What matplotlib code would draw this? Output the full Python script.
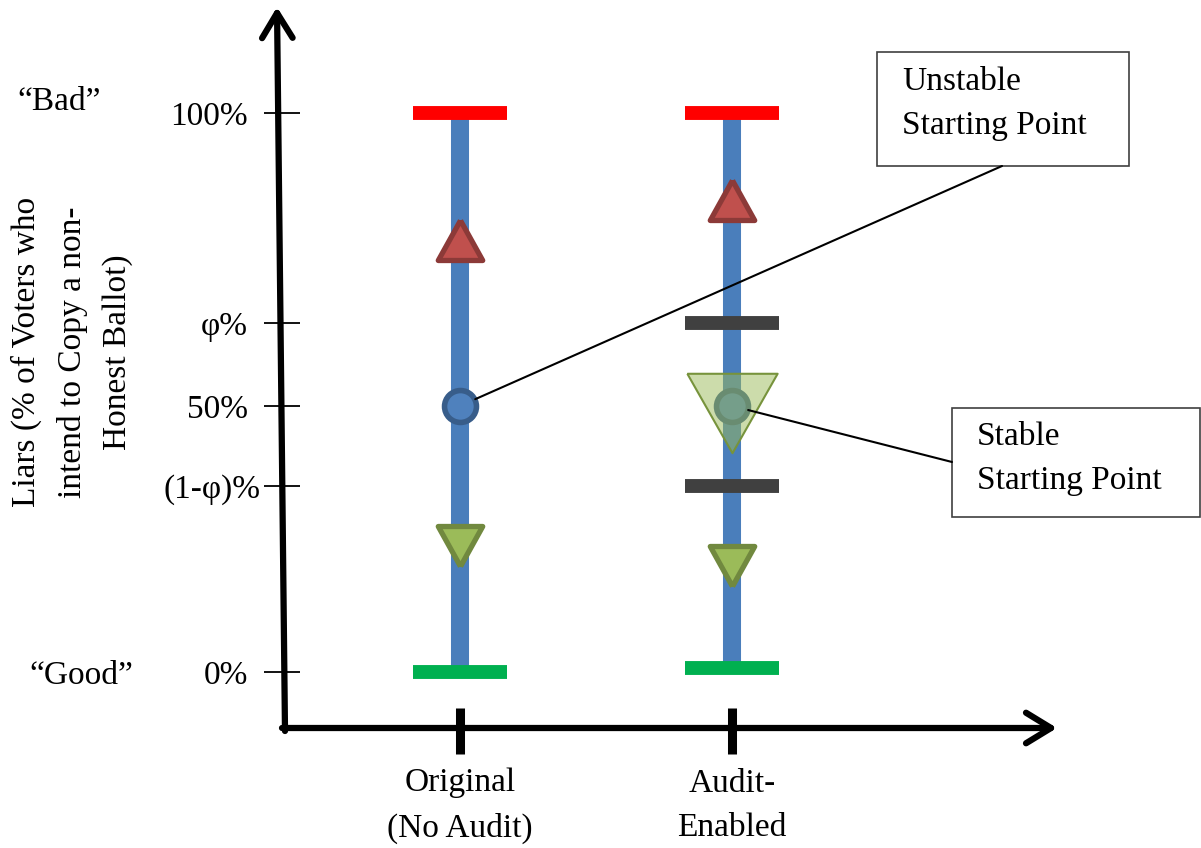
import matplotlib
matplotlib.use('Agg')
import matplotlib.pyplot as plt
from matplotlib.markers import MarkerStyle
from matplotlib.patches import Rectangle

plt.rcParams['font.family'] = ['Liberation Serif', 'DejaVu Serif']

# --- data (schematic percentages as drawn) ---
categories = ['Original\n(No Audit)', 'Audit-\nEnabled']
ytick_values = [100, 62.4, 47.6, 33.3, 0]
ytick_labels = ['100%', 'φ%', '50%', '(1-φ)%', '0%']

top_bar = [100, 100]          # red "bad" end of each range
bottom_bar = [0, 0.8]         # green "good" end of each range
up_marker = [77.3, 84.4]      # red triangles
down_marker = [22.5, 18.9]    # green triangles
start_point = [47.6, 47.6]    # starting points
threshold = [62.4, 33.3]      # phi and 1-phi, audit column only
stable_zone = [46.4]          # shaded triangle, audit column only

ylabel = 'Liars (% of Voters who\nintend to Copy a non-\nHonest Ballot)'

# figure is laid out in pixels; data x=0/1 are the two columns
W, H = 1201, 848
X0, XS = 460, 272      # pixel of x=0, pixels per column step
Y0, YS = 672, 5.59     # pixel of 0%, pixels per percent


def dx(px):
    return (px - X0) / XS


def dy(py):
    return (Y0 - py) / YS


fig = plt.figure(figsize=(W / 100, H / 100), dpi=100)
ax = fig.add_axes([0, 0, 1, 1])
ax.set_xlim(dx(0), dx(W))
ax.set_ylim(dy(H), dy(0))
ax.axis('off')

xs = list(range(len(categories)))

# ranges
ax.vlines(xs, bottom_bar, top_bar, colors='#4A7EBB', lw=13, zorder=1)
hw = 0.173
ax.hlines(top_bar, [x - hw for x in xs], [x + hw for x in xs],
          colors='#FF0000', lw=10, zorder=2)
ax.hlines(bottom_bar, [x - hw for x in xs], [x + hw for x in xs],
          colors='#00B050', lw=10, zorder=2)
ax.hlines(threshold, 1 - hw, 1 + hw, colors='#404040', lw=10, zorder=2)

# markers (triangles a bit wider than tall, like the original)
tri_up = MarkerStyle([(0, 0.9), (-1, -0.9), (1, -0.9), (0, 0.9)], joinstyle='round')
tri_down = MarkerStyle([(0, -0.9), (-1, 0.9), (1, 0.9), (0, -0.9)], joinstyle='round')

ax.plot(xs, start_point, ls='none', marker='o', ms=23, mfc='#4F81BD',
        mec='#385D8A', mew=4, zorder=3)
ax.plot(xs, up_marker, ls='none', marker=tri_up,
        ms=32, mfc='#C0504D', mec='#8C3A38', mew=3.8, zorder=4)
ax.plot(xs, down_marker, ls='none', marker=tri_down,
        ms=32, mfc='#9BBB59', mec='#71893F', mew=3.8, zorder=4)
ax.plot([1], stable_zone, ls='none',
        marker=[(-1, 0.88), (1, 0.88), (0, -0.88), (-1, 0.88)],
        ms=65, mfc=(0.608, 0.733, 0.349, 0.5), mec='#77933C', mew=1.5, zorder=5)

# axes drawn as arrows
arrow = dict(arrowstyle='->, head_length=0.9, head_width=0.55', lw=4.5,
             color='black', shrinkA=0, shrinkB=0, mutation_scale=20)
ax.annotate('', xy=(dx(277), dy(7)), xytext=(dx(285), dy(731)), arrowprops=arrow)
ax.annotate('', xy=(dx(1057), dy(728)), xytext=(dx(282), dy(728)), arrowprops=arrow)

# ticks
ax.hlines(ytick_values, dx(264), dx(300), colors='black', lw=1.3)
ax.vlines(xs, dy(708), dy(754), colors='black', lw=6.5)

label_right = [248, 248, 248, 260, 248]
for v, lab, r in zip(ytick_values, ytick_labels, label_right):
    ax.text(dx(r), v, lab, ha='right', va='center_baseline', fontsize=24)

for x, cat in zip(xs, categories):
    ax.text(x, dy(768), cat, ha='center', va='top', fontsize=24, linespacing=1.6)

ax.text(dx(59), dy(102), '\u201cBad\u201d', ha='center', va='center', fontsize=24)
ax.text(dx(81), dy(676), '\u201cGood\u201d', ha='center', va='center', fontsize=24)
ax.text(dx(72), dy(352), ylabel, rotation=90, ha='center', va='center',
        multialignment='center', fontsize=24, linespacing=1.6)

# callout boxes
ax.add_patch(Rectangle((dx(877), dy(166)), (1129 - 877) / XS, (166 - 52) / YS,
                       fill=False, ec='#404040', lw=1.2, zorder=6))
ax.text(dx(902), dy(66), 'Unstable\nStarting Point', ha='left', va='top',
        fontsize=24, linespacing=1.6, zorder=6)
ax.add_patch(Rectangle((dx(952), dy(517)), (1200 - 952) / XS, (517 - 408) / YS,
                       fill=False, ec='#404040', lw=1.2, zorder=6))
ax.text(dx(977), dy(421), 'Stable\nStarting Point', ha='left', va='top',
        fontsize=24, linespacing=1.6, zorder=6)

line = dict(arrowstyle='-', lw=1.5, color='black', shrinkA=0, shrinkB=12)
ax.annotate('', xy=(0, start_point[0]), xytext=(dx(1002), dy(166)),
            arrowprops=line, zorder=6)
ax.annotate('', xy=(1, start_point[1]), xytext=(dx(952), dy(462)),
            arrowprops=line, zorder=6)

fig.savefig('out.png', dpi=100)
